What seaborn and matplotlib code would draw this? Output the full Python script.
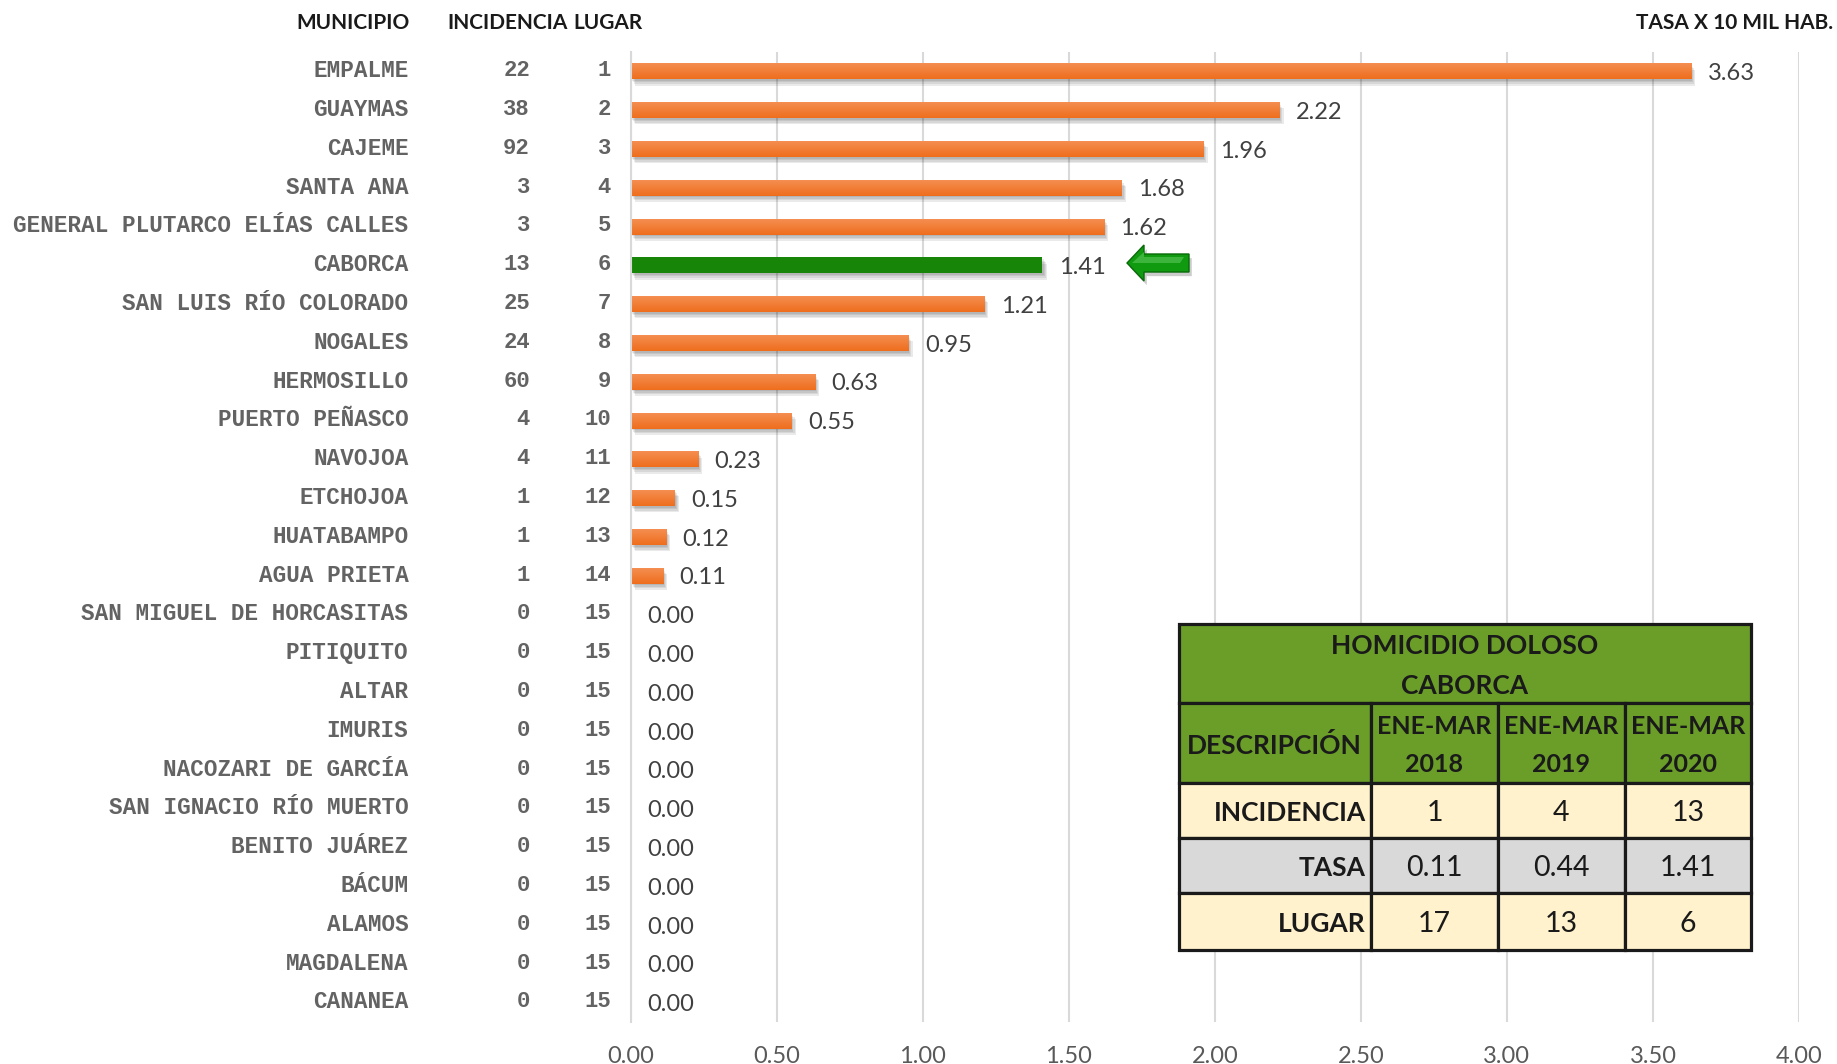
"""Homicidio doloso: tasa x 10 mil hab. por municipio, Sonora, ene-mar 2020."""
import numpy as np
import pandas as pd
import matplotlib
matplotlib.use("Agg")
import matplotlib.pyplot as plt
import matplotlib.patheffects as pe
import seaborn as sns
from matplotlib.colors import LinearSegmentedColormap
from matplotlib.patches import Polygon, Rectangle
from matplotlib.transforms import ScaledTranslation, blended_transform_factory

municipios = ["EMPALME", "GUAYMAS", "CAJEME", "SANTA ANA", "GENERAL PLUTARCO ELÍAS CALLES",
              "CABORCA", "SAN LUIS RÍO COLORADO", "NOGALES", "HERMOSILLO", "PUERTO PEÑASCO",
              "NAVOJOA", "ETCHOJOA", "HUATABAMPO", "AGUA PRIETA", "SAN MIGUEL DE HORCASITAS",
              "PITIQUITO", "ALTAR", "IMURIS", "NACOZARI DE GARCÍA", "SAN IGNACIO RÍO MUERTO",
              "BENITO JUÁREZ", "BÁCUM", "ALAMOS", "MAGDALENA", "CANANEA"]
tasa = [3.63, 2.22, 1.96, 1.68, 1.62, 1.41, 1.21, 0.95, 0.63, 0.55, 0.23, 0.15, 0.12, 0.11,
        0, 0, 0, 0, 0, 0, 0, 0, 0, 0, 0]
incidencia = [22, 38, 92, 3, 3, 13, 25, 24, 60, 4, 4, 1, 1, 1, 0, 0, 0, 0, 0, 0, 0, 0, 0, 0, 0]
lugar = [1, 2, 3, 4, 5, 6, 7, 8, 9, 10, 11, 12, 13, 14, 15, 15, 15, 15, 15, 15, 15, 15, 15, 15, 15]

tabla_periodos = ["ENE-MAR\n2018", "ENE-MAR\n2019", "ENE-MAR\n2020"]
tabla_filas = ["INCIDENCIA", "TASA", "LUGAR"]
tabla_valores = [["1", "4", "13"], ["0.11", "0.44", "1.41"], ["17", "13", "6"]]

W, H = 1837, 1064
ORANGE, GREEN = "#EE7628", "#178508"
SANS = "Lato"
MONO = "Liberation Mono"
TABLE_GREEN, CREAM, GRAY = "#6A9E28", "#FFF2CC", "#D9D9D9"

sns.set_theme(style="whitegrid")
plt.rcParams["font.family"] = SANS

df = pd.DataFrame({"municipio": municipios, "tasa": tasa})
fig = plt.figure(figsize=(W / 100, H / 100), dpi=100)
ax = fig.add_axes([630.6 / W, 1 - 1022 / H, (1799 - 630.6) / W, (1022 - 52) / H])
colors = [GREEN if m == "CABORCA" else ORANGE for m in municipios]
sns.barplot(df, x="tasa", y="municipio", hue="municipio", palette=colors, legend=False,
            width=0.41, saturation=1, linewidth=0, ax=ax)

ax.set_xlim(0, 4)
ax.set_xticks(np.arange(0, 4.5, 0.5))
ax.xaxis.set_major_formatter("{x:.2f}")
ax.set_xlabel("")
ax.set_ylabel("")
ax.grid(axis="y", visible=False)
ax.grid(axis="x", color="#D9D9D9", lw=1.5)
ax.set_axisbelow(True)
sns.despine(ax=ax, bottom=True)
ax.spines["left"].set(color="#D9D9D9", lw=1.5)
ax.tick_params(axis="x", length=0, pad=17, labelsize=17, labelcolor="#595959")
ax.tick_params(axis="y", length=0, pad=160)
up = ScaledTranslation(0, 3.3 / 100, fig.dpi_scale_trans)
for lab in ax.get_yticklabels():
    lab.set(family=MONO, weight="bold", fontsize=16.3, color="#636363")
    lab.set_transform(lab.get_transform() + up)

# soft shadow + top-lit gradient on the orange bars
grad = LinearSegmentedColormap.from_list("bar", ["#F58E50", "#EE6E1E"])
soft = [pe.SimplePatchShadow(offset=(o, -o * 1.4), shadow_rgbFace="k", alpha=0.09)
        for o in (3.2, 2.4, 1.6, 0.8)]
xlim, ylim = ax.get_xlim(), ax.get_ylim()
for bar, color, value in zip(ax.patches, colors, tasa):
    if value == 0:
        continue
    bar.set_path_effects(soft + [pe.Normal()])
    if color == ORANGE:
        x, y, w, h = bar.get_x(), bar.get_y(), bar.get_width(), bar.get_height()
        ax.imshow(np.linspace(0, 1, 32)[:, None], cmap=grad, aspect="auto",
                  extent=(x, x + w, y + h, y), zorder=bar.get_zorder() + 0.1)
ax.set_xlim(xlim)
ax.set_ylim(ylim)

for container in ax.containers:
    for lab in ax.bar_label(container, fmt="%.2f", padding=12, fontsize=17, color="#404040"):
        lab.xyann = (lab.xyann[0], -1.5)

# overlay in image pixels for the columns, arrow and table
over = fig.add_axes([0, 0, 1, 1], zorder=5)
over.set_xlim(0, W)
over.set_ylim(H, 0)
over.axis("off")
over.patch.set_alpha(0)

col = blended_transform_factory(over.transData, ax.transData)
for i, (inc, lug) in enumerate(zip(incidencia, lugar)):
    for x, val in ((530, inc), (611, lug)):
        over.text(x, i - 0.02, str(val), transform=col, ha="right", va="center", family=MONO,
                  weight="bold", fontsize=16, color="#636363")

for x, ha, txt in ((410, "right", "MUNICIPIO"), (447, "left", "INCIDENCIA"),
                   (643, "right", "LUGAR"), (1833, "right", "TASA X 10 MIL HAB.")):
    over.text(x, 23, txt, ha=ha, va="center", weight="bold", fontsize=15, color="k")

# arrow pointing at Caborca
tip, tail, cy = 1127, 1189, 263
arrow = [(tip, cy), (tip + 17, cy - 18), (tip + 17, cy - 9), (tail, cy - 9), (tail, cy + 9),
         (tip + 17, cy + 9), (tip + 17, cy + 18)]
over.add_patch(Polygon(arrow, closed=True, fc="#109A10", ec="#0A6A0A", lw=1,
                       path_effects=[pe.SimplePatchShadow(offset=(2, -3), shadow_rgbFace="k", alpha=0.22),
                                     pe.Normal()]))
over.add_patch(Polygon([(tip + 5, cy), (tip + 17, cy - 11), (tip + 17, cy - 6), (tail - 5, cy - 6),
                        (tail - 9, cy)], closed=True, fc="#3DB53D", ec="none"))

# summary table
xs = [1178.5, 1371, 1498, 1624.6, 1751]
ys = [624, 703, 783, 838, 893, 950]


def cell(x0, x1, y0, y1, fc, txt, weight="bold", ha="center", size=19):
    over.add_patch(Rectangle((x0, y0), x1 - x0, y1 - y0, fc=fc, ec="k", lw=2.3))
    tx = x1 - 5 if ha == "right" else (x0 + x1) / 2
    over.text(tx, (y0 + y1) / 2 + 2.5, txt, ha=ha, va="center", weight=weight, fontsize=size,
              color="k", linespacing=1.8)


cell(xs[0], xs[4], ys[0], ys[1], TABLE_GREEN, "HOMICIDIO DOLOSO\nCABORCA", size=19)
cell(xs[0], xs[1], ys[1], ys[2], TABLE_GREEN, "DESCRIPCIÓN", size=19)
for j, per in enumerate(tabla_periodos):
    cell(xs[j + 1], xs[j + 2], ys[1], ys[2], TABLE_GREEN, per, size=18)
for i, (fila, vals) in enumerate(zip(tabla_filas, tabla_valores)):
    bg = GRAY if fila == "TASA" else CREAM
    cell(xs[0], xs[1], ys[i + 2], ys[i + 3], bg, fila, ha="right")
    for j, v in enumerate(vals):
        cell(xs[j + 1], xs[j + 2], ys[i + 2], ys[i + 3], bg, v, weight="normal", size=20.5)

fig.savefig("out.png", dpi=100)
